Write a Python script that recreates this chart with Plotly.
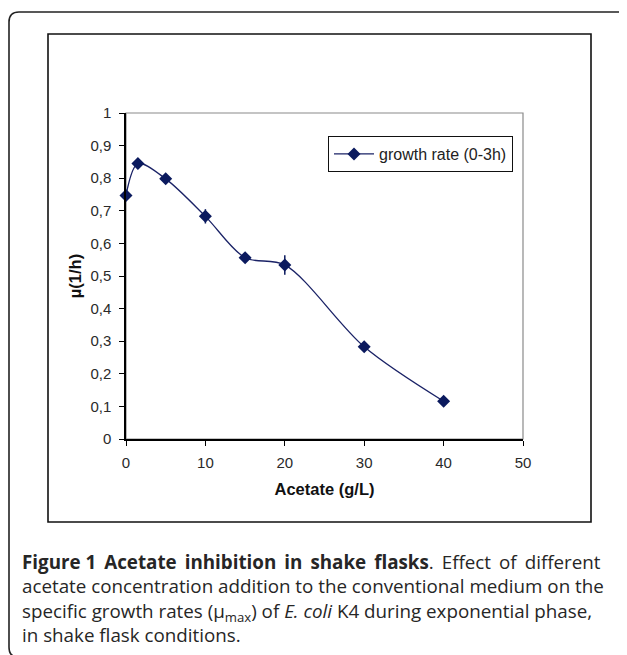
import plotly.graph_objects as go

# ---- data ----
acetate = [0, 1.5, 5, 10, 15, 20, 30, 40]
growth_rate = [0.747, 0.845, 0.798, 0.683, 0.556, 0.534, 0.283, 0.116]
error = [0.012, 0.01, 0.01, 0.022, 0.013, 0.03, 0.012, 0.014]
series_name = "growth rate (0-3h)"
x_title = "Acetate (g/L)"
y_title = "µ(1/h)"
TS = "\u2009"  # thin space used to mimic the justified first caption line
caption_lines = [
    f"<b>Figure 1 {TS}Acetate {TS}inhibition {TS}in {TS}shake {TS}flasks</b>. {TS}Effect {TS}of {TS}different",
    "acetate concentration addition to the conventional medium on the",
    "specific growth rates (µ<sub>max</sub>) of <i>E. coli</i> K4 during exponential phase,",
    "in shake flask conditions.",
]

# the page body has an 8px margin; lay out in window pixels and shift
OFF = 8
W, H = 627 - OFF, 655 - OFF
L, R, T, B = 126 - OFF, 523 - OFF, 113 - OFF, 439 - OFF
PW, PH = R - L, B - T


def px(xp):
    return (xp - OFF - L) / PW


def py(yp):
    return (B - (yp - OFF)) / PH


NAVY = "#0b1a5e"
fig = go.Figure()
fig.add_trace(go.Scatter(
    x=acetate, y=growth_rate, name=series_name,
    mode="lines+markers",
    line=dict(color="#1a2266", width=1.3, shape="spline", smoothing=0.9),
    marker=dict(symbol="diamond", size=10, color=NAVY),
    error_y=dict(type="data", array=error, visible=True, color=NAVY, thickness=1.5, width=0),
    cliponaxis=False,
))

axis_font = dict(family="Liberation Sans, Arial", size=15, color="#2a2a2a")
title_font = dict(family="Liberation Sans, Arial", size=16.5, color="#111")
fig.update_xaxes(
    range=[0, 50], dtick=10, tick0=0, showgrid=False, zeroline=False,
    showline=True, linecolor="black", linewidth=1.5,
    ticks="outside", ticklen=5, tickcolor="black", tickwidth=1.2,
    tickfont=axis_font, ticklabelstandoff=4,
    title=dict(text="<b>" + x_title + "</b>", font=title_font, standoff=14),
)
fig.update_yaxes(
    range=[0, 1], dtick=0.1, tick0=0, showgrid=False, zeroline=False,
    showline=True, linecolor="black", linewidth=1.5,
    ticks="outside", ticklen=5, tickcolor="black", tickwidth=1.2,
    tickfont=axis_font, ticklabelstandoff=5,
    title=dict(text="<b>" + y_title + "</b>", font=title_font, standoff=5),
)

shapes = [
    # plot area border (gray)
    dict(type="rect", xref="paper", yref="paper", x0=0, y0=0, x1=1, y1=1,
         line=dict(color="#8a8a8a", width=1.2), layer="below"),
    # inner chart frame
    dict(type="rect", xref="paper", yref="paper", x0=px(48), x1=px(591), y0=py(522), y1=py(34),
         line=dict(color="#111", width=1.6)),
    # outer rounded frame (top and left visible)
    dict(type="path", xref="paper", yref="paper",
         path=(f"M {px(18)} {py(657)} Q {px(9)} {py(657)} {px(9)} {py(647)} "
               f"L {px(9)} {py(22)} Q {px(9)} {py(12)} {px(19)} {py(12)} L {px(630)} {py(12)}"),
         line=dict(color="#222", width=1.6)),
]

annotations = [dict(
    text="<br>".join(caption_lines), xref="paper", yref="paper", x=px(20), y=py(547),
    xanchor="left", yanchor="top", showarrow=False, align="left",
    font=dict(family="Open Sans", size=18.8, color="#262626"),
)]

fig.update_layout(
    width=W, height=H, autosize=False,
    margin=dict(l=L, r=W - R, t=T, b=H - B, pad=0),
    paper_bgcolor="white", plot_bgcolor="white",
    separators=", ",
    showlegend=True,
    legend=dict(x=px(328), y=py(136), xanchor="left", yanchor="top",
                bordercolor="#111", borderwidth=1, bgcolor="white",
                font=dict(family="Liberation Sans, Arial", size=16, color="#222"),
                itemwidth=40, tracegroupgap=0),
    shapes=shapes,
    annotations=annotations,
)

fig.write_html("out.html")
